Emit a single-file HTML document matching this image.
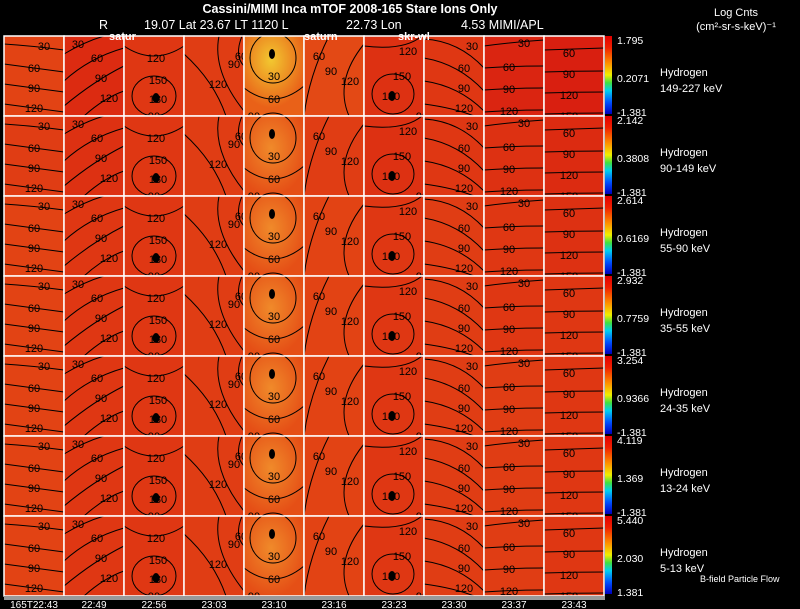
<!DOCTYPE html>
<html><head><meta charset="utf-8"><style>
body{margin:0;background:#000;width:800px;height:609px;overflow:hidden;font-family:"Liberation Sans",sans-serif;}
svg{display:block}
</style></head><body>
<svg id="chart" width="800" height="609" xmlns="http://www.w3.org/2000/svg" font-family="Liberation Sans, sans-serif">
<defs>
<linearGradient id="cbar" x1="0" y1="1" x2="0" y2="0">
<stop offset="0" stop-color="#0000c0"/><stop offset="0.15" stop-color="#0050ff"/><stop offset="0.3" stop-color="#00d0f0"/><stop offset="0.4" stop-color="#40e040"/><stop offset="0.5" stop-color="#f0f000"/><stop offset="0.65" stop-color="#ff9000"/><stop offset="0.85" stop-color="#f02000"/><stop offset="1" stop-color="#e00000"/>
</linearGradient>
<radialGradient id="hotTop" cx="0.45" cy="0.3" r="0.6"><stop offset="0" stop-color="#f2c830"/><stop offset="1" stop-color="#f2c830" stop-opacity="0"/></radialGradient>
<radialGradient id="hotMid" cx="0.45" cy="0.4" r="0.6"><stop offset="0" stop-color="#f08a2a"/><stop offset="1" stop-color="#f08a2a" stop-opacity="0"/></radialGradient>
</defs>
<text x="350" y="13" fill="#fff" font-size="12.5" font-weight="bold" text-anchor="middle">Cassini/MIMI Inca mTOF  2008-165   Stare   Ions Only</text>
<text x="99" y="29" fill="#fff" font-size="12.5">R</text>
<text x="144" y="29" fill="#fff" font-size="12.5">19.07 Lat 23.67 LT 1120 L</text>
<text x="346" y="29" fill="#fff" font-size="12.5">22.73 Lon</text>
<text x="461" y="29" fill="#fff" font-size="12.5">4.53  MIMI/APL</text>
<text x="736" y="16" fill="#fff" font-size="11" text-anchor="middle">Log Cnts</text>
<text x="736" y="30" fill="#fff" font-size="11" text-anchor="middle">(cm²-sr-s-keV)⁻¹</text>
<g id="panels"></g>
<rect x="4" y="596" width="601" height="4" fill="#999"/>
<g id="times"></g>
<text x="109" y="40" fill="#fff" font-size="11" font-weight="bold">satur</text>
<text x="304" y="40" fill="#fff" font-size="11" font-weight="bold">saturn</text>
<text x="398" y="40" fill="#fff" font-size="11" font-weight="bold">skr-wl</text>
<text x="700" y="582" fill="#fff" font-size="9">B-field Particle Flow</text>
</svg>
<script>
const timeLabels=["165T22:43","22:49","22:56","23:03","23:10","23:16","23:23","23:30","23:37","23:43"];
const energyLabels=["149-227 keV","90-149 keV","55-90 keV","35-55 keV","24-35 keV","13-24 keV","5-13 keV"];
const cbarMax=["1.795","2.142","2.614","2.932","3.254","4.119","5.440"];
const cbarMid=["0.2071","0.3808","0.6169","0.7759","0.9366","1.369","2.030"];
const cbarMin=["-1.381","-1.381","-1.381","-1.381","-1.381","-1.381","1.381"];
// panel intensity (0=dark red .. 1=yellow), rows x columns
const intensity=[
[0.35,0.15,0.25,0.3,0.6,0.4,0.2,0.25,0.1,0.05],
[0.3,0.2,0.25,0.3,0.45,0.3,0.2,0.25,0.2,0.15],
[0.35,0.25,0.25,0.3,0.45,0.35,0.25,0.3,0.25,0.2],
[0.35,0.25,0.25,0.3,0.45,0.35,0.25,0.3,0.25,0.25],
[0.35,0.25,0.25,0.3,0.45,0.35,0.25,0.3,0.3,0.25],
[0.35,0.25,0.25,0.3,0.45,0.35,0.25,0.3,0.3,0.25],
[0.35,0.25,0.25,0.3,0.45,0.35,0.25,0.3,0.3,0.25]];
const NS="http://www.w3.org/2000/svg";
function el(t,a,p){const e=document.createElementNS(NS,t);for(const k in a)e.setAttribute(k,a[k]);p.appendChild(e);return e;}
function color(v){const r=Math.round(215+30*v),g=Math.round(25+120*v),b=Math.round(15+15*v);return `rgb(${r},${g},${b})`;}
const X0=4,Y0=36,PW=60,PH=80;
const xs=i=>X0+i*PW, ys=j=>Y0+j*PH;
const tmpl=[
{p:["M0,8 Q30,10 60,14","M0,28 Q30,32 60,36","M0,48 Q30,52 60,56","M0,68 Q30,72 60,76"],l:[[40,10,"30"],[30,32,"60"],[30,52,"90"],[30,72,"120"]]},
{p:["M0,18 Q20,6 40,0","M0,45 Q25,22 60,12","M0,70 Q30,45 60,30","M20,80 Q40,62 60,55"],l:[[14,8,"30"],[33,22,"60"],[37,42,"90"],[45,62,"120"]]},
{p:["M0,10 Q30,30 60,10","M8,60 a22,20 0 1,0 44,0 a22,20 0 1,0 -44,0"],l:[[32,22,"120"],[34,44,"150"],[34,63,"180"],[30,80,"90"]]},
{p:["M35,0 Q28,35 60,75","M0,18 Q30,45 42,80","M58,0 Q50,20 60,30"],l:[[50,28,"90"],[34,48,"120"],[57,20,"60"]]},
{p:["M6,22 a23,25 0 1,0 46,0 a23,25 0 1,0 -46,0","M0,52 Q30,75 60,50"],l:[[30,40,"30"],[30,63,"60"],[10,80,"90"],[28,18,"0"]]},
{p:["M25,0 Q5,40 0,80","M60,8 Q30,45 45,80"],l:[[15,20,"60"],[27,35,"90"],[46,45,"120"]]},
{p:["M0,10 Q40,15 58,0","M8,58 a21,20 0 1,0 42,0 a21,20 0 1,0 -42,0"],l:[[44,15,"120"],[38,40,"150"],[27,60,"180"],[58,80,"90"]]},
{p:["M0,3 Q35,5 60,32","M0,22 Q35,28 60,55","M0,45 Q35,50 60,75","M0,68 Q30,72 50,80"],l:[[48,10,"30"],[40,32,"60"],[40,52,"90"],[40,72,"120"]]},
{p:["M0,10 Q30,6 60,4","M0,32 Q30,30 60,30","M0,54 Q30,52 60,52","M0,76 Q30,74 60,74"],l:[[40,7,"30"],[25,31,"60"],[25,53,"90"],[25,75,"120"]]},
{p:["M0,14 Q30,13 60,12","M0,36 Q30,35 60,35","M0,57 Q30,56 60,56","M0,78 Q30,77 60,77"],l:[[25,17,"60"],[25,38,"90"],[25,59,"120"],[25,80,"150"]]}];
const panels=document.getElementById('panels');
for(let r=0;r<7;r++){
  const row=el('g',{},panels);
  
  
  for(let c=0;c<10;c++){
    const g=el('g',{transform:`translate(${xs(c)},${ys(r)})`},row);
    
    
    el('rect',{x:0,y:0,width:PW,height:PH,fill:color(intensity[r][c])},g);
    if(c===4) el('rect',{x:0,y:0,width:PW,height:PH,fill:r===0?'url(#hotTop)':'url(#hotMid)'},g);
    const t=tmpl[c];
    t.p.forEach(d=>el('path',{d:d,fill:'none',stroke:'#000','stroke-width':1},g));
    t.l.forEach(L=>{const tx=el('text',{x:L[0],y:L[1]+4,'font-size':11,'text-anchor':'middle',fill:'#000'},g);tx.textContent=L[2];});
    if(c===2||c===6){el('ellipse',{cx:c===2?32:28,cy:c===2?62:60,rx:3.5,ry:5,fill:'#000'},g);}
    if(c===4){el('ellipse',{cx:28,cy:18,rx:3,ry:5,fill:'#000'},g);}
    el('rect',{x:0,y:0,width:PW,height:PH,fill:'none',stroke:'#fff','stroke-width':1.5},g);
  }
  const cy=ys(r);
  const cb=el('rect',{x:605,y:cy,width:7,height:PH-2,fill:'url(#cbar)'},row);
  
  
  const t1=el('text',{x:617,y:cy+8,'font-size':10.5,fill:'#fff'},row);t1.textContent=cbarMax[r];
  
  const t2=el('text',{x:617,y:cy+46,'font-size':10.5,fill:'#fff'},row);t2.textContent=cbarMid[r];
  
  const t3=el('text',{x:617,y:cy+80,'font-size':10.5,fill:'#fff'},row);t3.textContent=cbarMin[r];
  
  const h=el('text',{x:660,y:cy+40,'font-size':11,fill:'#fff'},row);h.textContent='Hydrogen';
  
  const e=el('text',{x:660,y:cy+56,'font-size':11,fill:'#fff'},row);e.textContent=energyLabels[r];
  
}
const times=document.getElementById('times');
timeLabels.forEach((s,i)=>{
  const t=el('text',{x:xs(i)+PW/2,y:608,'font-size':10,fill:'#fff','text-anchor':'middle'},times);
  t.textContent=s;
  
  
});
</script>
</body></html>
